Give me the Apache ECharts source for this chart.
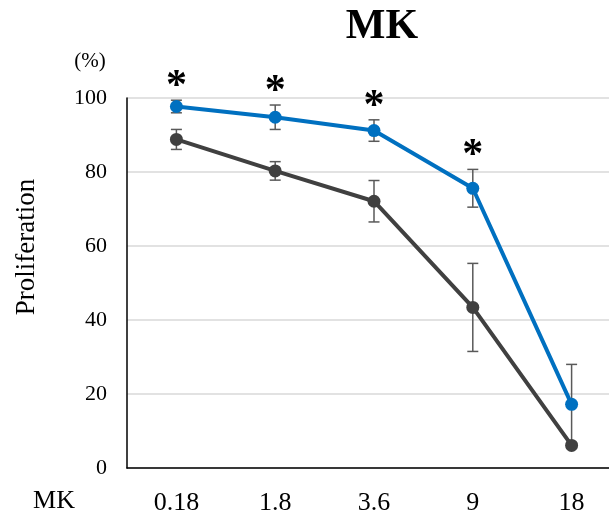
<!DOCTYPE html>
<html>
<head>
<meta charset="utf-8">
<script src="https://cdn.jsdelivr.net/npm/echarts@6/dist/echarts.min.js"></script>
<style>html,body{margin:0;padding:0;background:#fff;overflow:hidden;width:609px;height:516px;}#c{width:621px;height:516px;}</style>
</head>
<body>
<div id="c"></div>
<script>
const categories = ['0.18', '1.8', '3.6', '9', '18'];
const blueMean = [97.7, 94.8, 91.2, 75.6, 17.2];
const blueErr = [1.7, 3.3, 2.9, 5.1, 10.8];
const darkMean = [88.8, 80.3, 72.1, 43.4, 6.1];
const darkErr = [2.7, 2.5, 5.6, 11.9, 0.8];
const significant = [true, true, true, true, false];
const yTicks = [0, 20, 40, 60, 80, 100];

const FONT = '"Liberation Serif", "Times New Roman", serif';
const chart = echarts.init(document.getElementById('c'), null, {renderer: 'canvas'});

function errData(mean, err) {
  return mean.map((m, i) => [i, m - err[i], m + err[i]]);
}
const starData = [];
significant.forEach((s, i) => { if (s) starData.push([i, blueMean[i] + blueErr[i]]); });

function renderErr(params, api) {
  const x = api.value(0);
  const lo = api.coord([x, api.value(1)]);
  const hi = api.coord([x, api.value(2)]);
  const w = 5.5;
  const st = {stroke: '#595959', lineWidth: 1.5};
  return {
    type: 'group',
    children: [
      {type: 'line', shape: {x1: lo[0], y1: lo[1], x2: hi[0], y2: hi[1]}, style: st},
      {type: 'line', shape: {x1: lo[0] - w, y1: lo[1], x2: lo[0] + w, y2: lo[1]}, style: st},
      {type: 'line', shape: {x1: hi[0] - w, y1: hi[1], x2: hi[0] + w, y2: hi[1]}, style: st}
    ]
  };
}

chart.setOption({
  animation: false,
  backgroundColor: '#fff',
  grid: {left: 127, right: 0, top: 98, bottom: 48, containLabel: false},
  xAxis: {
    type: 'category',
    data: categories,
    boundaryGap: true,
    axisLine: {show: true, lineStyle: {color: '#000', width: 1.5}},
    axisTick: {show: false},
    axisLabel: {color: '#000', fontFamily: FONT, fontSize: 26, margin: 22},
    splitLine: {show: false}
  },
  yAxis: {
    type: 'value',
    min: yTicks[0],
    max: yTicks[yTicks.length - 1],
    interval: 20,
    axisLine: {show: true, lineStyle: {color: '#000', width: 1.5}},
    axisTick: {show: false},
    axisLabel: {color: '#000', fontFamily: FONT, fontSize: 22, margin: 20},
    splitLine: {show: true, lineStyle: {color: '#d9d9d9', width: 1.5}}
  },
  graphic: [
    {type: 'text', x: 382, y: 27, style: {text: 'MK', font: 'bold 42px ' + FONT, fill: '#000', align: 'center', verticalAlign: 'middle'}},
    {type: 'text', x: 90, y: 61, style: {text: '(%)', font: '21px ' + FONT, fill: '#000', align: 'center', verticalAlign: 'middle'}},
    {type: 'text', x: 27, y: 247, rotation: Math.PI / 2, style: {text: 'Proliferation', font: '27px ' + FONT, fill: '#000', align: 'center', verticalAlign: 'middle'}},
    {type: 'text', x: 54, y: 501, style: {text: 'MK', font: '26px ' + FONT, fill: '#000', align: 'center', verticalAlign: 'middle'}}
  ],
  series: [
    {
      type: 'custom', name: 'blueErr', z: 1,
      renderItem: renderErr, data: errData(blueMean, blueErr), encode: {x: 0, y: [1, 2]}
    },
    {
      type: 'custom', name: 'darkErr', z: 1,
      renderItem: renderErr, data: errData(darkMean, darkErr), encode: {x: 0, y: [1, 2]}
    },
    {
      type: 'line', name: 'dark', data: darkMean, z: 3,
      symbol: 'circle', symbolSize: 13,
      lineStyle: {color: '#404040', width: 4},
      itemStyle: {color: '#404040'}
    },
    {
      type: 'line', name: 'blue', data: blueMean, z: 4,
      symbol: 'circle', symbolSize: 13,
      lineStyle: {color: '#0070c0', width: 4},
      itemStyle: {color: '#0070c0'}
    },
    {
      type: 'custom', name: 'stars', z: 5,
      renderItem: function (params, api) {
        const p = api.coord([api.value(0), api.value(1)]);
        return {type: 'text', x: p[0], y: p[1] + 8, style: {text: '*', font: 'bold 42px ' + FONT, fill: '#000', align: 'center', verticalAlign: 'bottom'}};
      },
      data: starData, encode: {x: 0, y: 1}
    }
  ]
});
</script>
</body>
</html>
